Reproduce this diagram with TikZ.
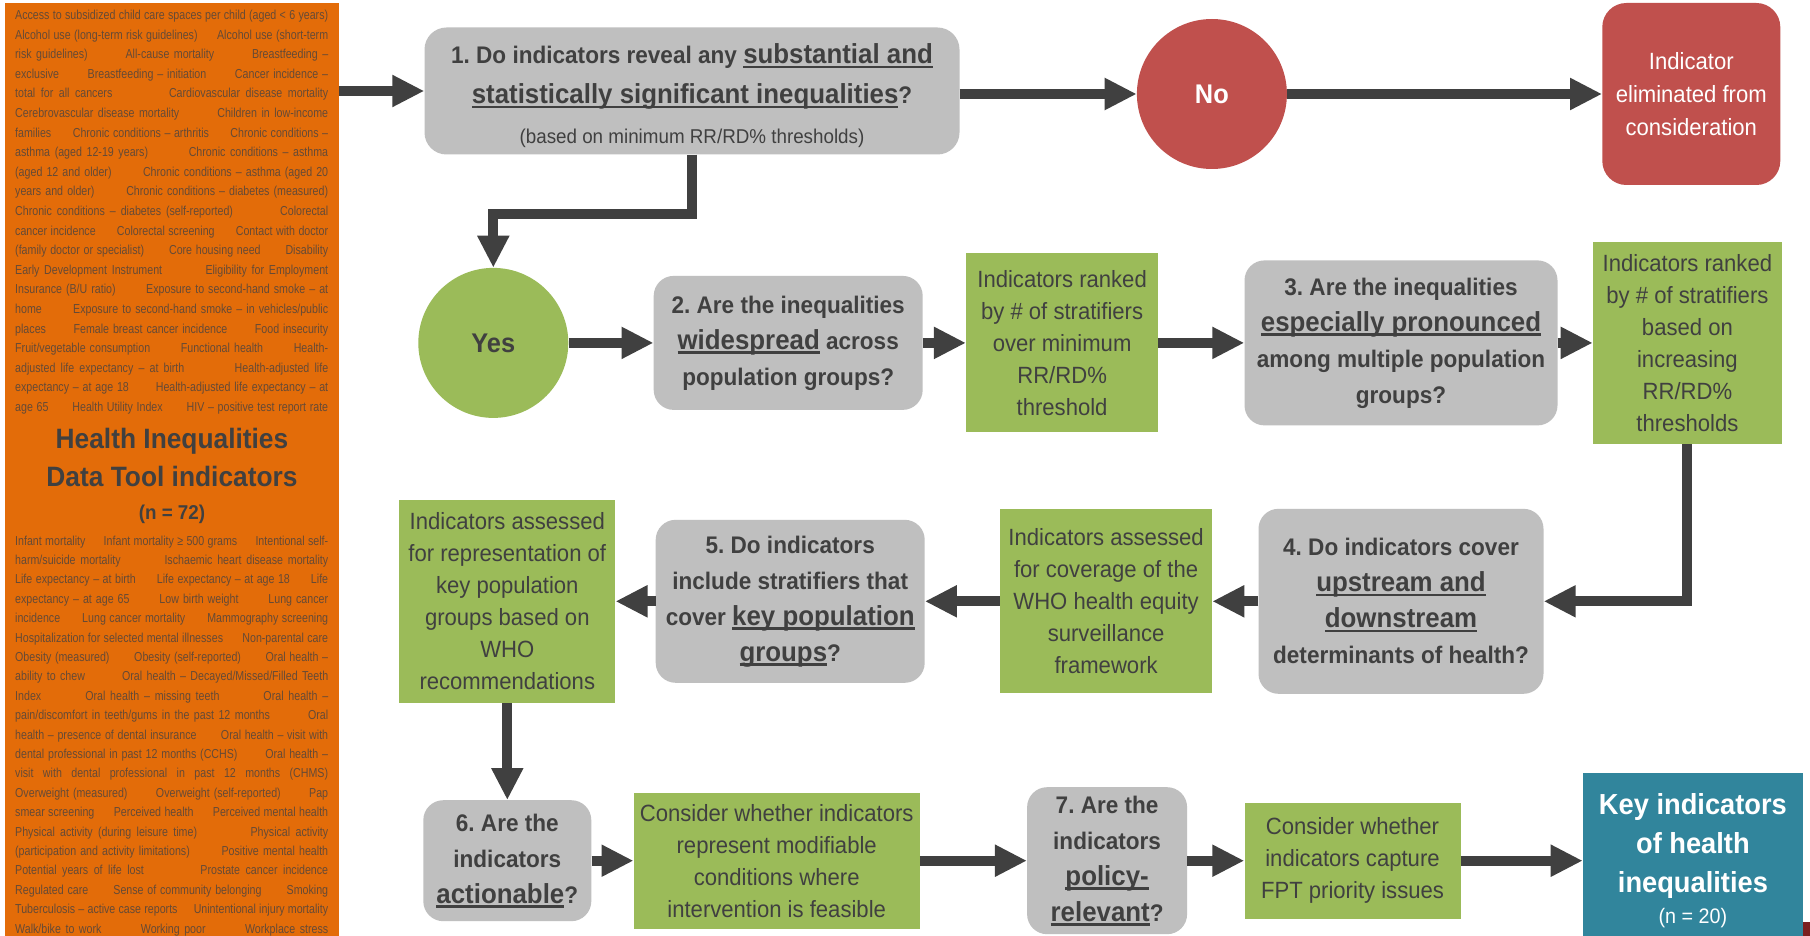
\documentclass[tikz,border=0pt]{standalone}
\usepackage{fontspec}
\setmainfont[FakeStretch=0.94]{Liberation Sans}
\newfontfamily\narrowfont[FakeStretch=0.82]{Liberation Sans}
\usetikzlibrary{positioning,arrows.meta}
\frenchspacing

\definecolor{toolorange}{HTML}{E36C09}
\definecolor{qgrey}{HTML}{BFBFBF}
\definecolor{igreen}{HTML}{9BBB59}
\definecolor{nored}{HTML}{C0504D}
\definecolor{keyteal}{HTML}{31859C}
\definecolor{inkgrey}{HTML}{404040}
\definecolor{listink}{HTML}{654A36}
\definecolor{edgered}{HTML}{7B1F1F}

\newcommand{\fsz}[2]{\fontsize{#1}{#2}\selectfont}
\newcommand{\keyword}[1]{{\fsz{27.5}{36}\setbox0=\hbox{#1}\rlap{\rule[-4.5pt]{\wd0}{2.2pt}}\box0}}
\newcommand{\isep}{\hspace{0.9em plus 2em}}
\newcommand{\listrow}[1]{\makebox[313pt][s]{#1}}

\tikzset{
  qbox/.style={fill=qgrey, rounded corners=20pt, align=center, text=inkgrey, font=\bfseries\fsz{24}{36}, inner sep=2pt},
  ibox/.style={fill=igreen, align=center, text=inkgrey, font=\fsz{23.5}{32}, inner sep=2pt},
  answer/.style={circle, minimum size=150pt, inner sep=0pt, font=\bfseries\fsz{27}{32}},
  flow/.style={draw=inkgrey, line width=10pt, -{Triangle[length=32pt,width=30pt]}},
}

\begin{document}
\begin{tikzpicture}[x=1pt, y=-1pt]
\useasboundingbox (0,0) rectangle (1810,936);
\fill[white] (0,0) rectangle (1810,936);

\node[fill=toolorange, minimum width=334pt, minimum height=945pt, anchor=north west, inner sep=0pt] (tool) at (5,3) {};
\node[anchor=north west, inner sep=0pt, align=left, text=listink, font=\narrowfont\fsz{13}{19.6}] (listtop) at (15,9.8) {%
\listrow{Access to subsidized child care spaces per child (aged < 6 years)}\\
\listrow{Alcohol use (long-term risk guidelines)\isep Alcohol use (short-term}\\
\listrow{risk guidelines)\isep All-cause mortality\isep Breastfeeding –}\\
\listrow{exclusive\isep Breastfeeding – initiation\isep Cancer incidence –}\\
\listrow{total for all cancers\isep Cardiovascular disease mortality}\\
\listrow{Cerebrovascular disease mortality\isep Children in low-income}\\
\listrow{families\isep Chronic conditions – arthritis\isep Chronic conditions –}\\
\listrow{asthma (aged 12-19 years)\isep Chronic conditions – asthma}\\
\listrow{(aged 12 and older)\isep Chronic conditions – asthma (aged 20}\\
\listrow{years and older)\isep Chronic conditions – diabetes (measured)}\\
\listrow{Chronic conditions – diabetes (self-reported)\isep Colorectal}\\
\listrow{cancer incidence\isep Colorectal screening\isep Contact with doctor}\\
\listrow{(family doctor or specialist)\isep Core housing need\isep Disability}\\
\listrow{Early Development Instrument\isep Eligibility for Employment}\\
\listrow{Insurance (B/U ratio)\isep Exposure to second-hand smoke – at}\\
\listrow{home\isep Exposure to second-hand smoke – in vehicles/public}\\
\listrow{places\isep Female breast cancer incidence\isep Food insecurity}\\
\listrow{Fruit/vegetable consumption\isep Functional health\isep Health-}\\
\listrow{adjusted life expectancy – at birth\isep Health-adjusted life}\\
\listrow{expectancy – at age 18\isep Health-adjusted life expectancy – at}\\
\listrow{age 65\isep Health Utility Index\isep HIV – positive test report rate}};
\node[anchor=north, inner sep=0pt, align=center, text=inkgrey, font=\bfseries\fsz{28}{38}] (tooltitle) at (172,428.5) {Health Inequalities\\Data Tool indicators\\[-5pt]{\fsz{20}{26}(n = 72)}};
\node[anchor=north west, inner sep=0pt, align=left, text=listink, font=\narrowfont\fsz{13}{19.4}] (listbottom) at (15,535.5) {%
\listrow{Infant mortality\isep Infant mortality ≥ 500 grams\isep Intentional self-}\\
\listrow{harm/suicide mortality\isep Ischaemic heart disease mortality}\\
\listrow{Life expectancy – at birth\isep Life expectancy – at age 18\isep Life}\\
\listrow{expectancy – at age 65\isep Low birth weight\isep Lung cancer}\\
\listrow{incidence\isep Lung cancer mortality\isep Mammography screening}\\
\listrow{Hospitalization for selected mental illnesses\isep Non-parental care}\\
\listrow{Obesity (measured)\isep Obesity (self-reported)\isep Oral health –}\\
\listrow{ability to chew\isep Oral health – Decayed/Missed/Filled Teeth}\\
\listrow{Index\isep Oral health – missing teeth\isep Oral health –}\\
\listrow{pain/discomfort in teeth/gums in the past 12 months\isep Oral}\\
\listrow{health – presence of dental insurance\isep Oral health – visit with}\\
\listrow{dental professional in past 12 months (CCHS)\isep Oral health –}\\
\listrow{visit with dental professional in past 12 months (CHMS)}\\
\listrow{Overweight (measured)\isep Overweight (self-reported)\isep Pap}\\
\listrow{smear screening\isep Perceived health\isep Perceived mental health}\\
\listrow{Physical activity (during leisure time)\isep Physical activity}\\
\listrow{(participation and activity limitations)\isep Positive mental health}\\
\listrow{Potential years of life lost\isep Prostate cancer incidence}\\
\listrow{Regulated care\isep Sense of community belonging\isep Smoking}\\
\listrow{Tuberculosis – active case reports\isep Unintentional injury mortality}\\
\listrow{Walk/bike to work\isep Working poor\isep Workplace stress}};

\node[qbox, minimum width=535pt, minimum height=127pt, rounded corners=22pt] (q1) at (692,91) {\rule{0pt}{30pt}1. Do indicators reveal any \keyword{substantial and}\\[4pt]\keyword{statistically significant inequalities}?\\[4pt]{\mdseries\fsz{20}{26}(based on minimum RR/RD\% thresholds)}};
\node[answer, fill=nored, text=white, right=177pt of q1, yshift=-3pt] (no) {No};
\node[fill=nored, rounded corners=24pt, minimum width=178pt, minimum height=182pt, align=center, text=white, font=\fsz{23.5}{33}, right=315pt of no] (out) {Indicator\\eliminated from\\consideration};

\node[answer, fill=igreen, text=inkgrey, below=113pt of q1.south west, xshift=69pt] (yes) {Yes};
\node[qbox, minimum width=269pt, minimum height=134pt, right=85pt of yes] (q2) {2. Are the inequalities\\\keyword{widespread} across\\population groups?};
\node[ibox, minimum width=192pt, minimum height=179pt, right=43pt of q2] (rank1) {Indicators ranked\\by \# of stratifiers\\over minimum\\RR/RD\%\\threshold};
\node[qbox, minimum width=313pt, minimum height=165pt, right=86pt of rank1] (q3) {3. Are the inequalities\\\keyword{especially pronounced}\\among multiple population\\groups?};
\node[ibox, minimum width=189pt, minimum height=202pt, right=35pt of q3] (rank2) {Indicators ranked\\by \# of stratifiers\\based on\\increasing\\RR/RD\%\\thresholds};

\node[qbox, minimum width=285pt, minimum height=185pt, below=83pt of q3] (q4) {4. Do indicators cover\\\keyword{upstream and}\\\keyword{downstream}\\determinants of health?};
\node[ibox, minimum width=212pt, minimum height=184pt, left=46pt of q4] (cover) {Indicators assessed\\for coverage of the\\WHO health equity\\surveillance\\framework};
\node[qbox, minimum width=269pt, minimum height=163pt, left=75pt of cover] (q5) {5. Do indicators\\include stratifiers that\\cover \keyword{key population}\\\keyword{groups}?};
\node[ibox, minimum width=216pt, minimum height=203pt, left=40pt of q5] (repr) {Indicators assessed\\for representation of\\key population\\groups based on\\WHO\\recommendations};

\node[qbox, minimum width=168pt, minimum height=121pt, below=97pt of repr] (q6) {6. Are the\\indicators\\\keyword{actionable}?};
\node[ibox, minimum width=286pt, minimum height=136pt, right=42pt of q6] (modif) {Consider whether indicators\\represent modifiable\\conditions where\\intervention is feasible};
\node[qbox, minimum width=160pt, minimum height=147pt, right=107pt of modif] (q7) {7. Are the\\indicators\\\keyword{policy-}\\\keyword{relevant}?};
\node[ibox, minimum width=216pt, minimum height=116pt, right=57pt of q7] (fpt) {Consider whether\\indicators capture\\FPT priority issues};
\node[fill=keyteal, minimum width=220pt, minimum height=176pt, align=center, text=white, font=\bfseries\fsz{29}{39}, right=122pt of fpt] (key) {Key indicators\\of health\\inequalities\\[-8pt]{\mdseries\fsz{21}{26}(n = 20)}};
\fill[edgered] (1803,922) rectangle (1812,940);

\draw[flow] (tool.east |- q1.west) -- (q1.west);
\draw[flow] (q1.east |- no.west) -- (no.west);
\draw[flow] (no) -- (out);
\draw[flow] (q1.south) -- ++(0,59) -| (yes.north);
\draw[flow] (yes) -- (q2);
\draw[flow] (q2) -- (rank1);
\draw[flow] (rank1) -- (q3);
\draw[flow] (q3) -- (rank2);
\draw[flow] (rank2.south) |- (q4.east);
\draw[flow] (q4) -- (cover);
\draw[flow] (cover) -- (q5);
\draw[flow] (q5) -- (repr);
\draw[flow] (repr) -- (q6);
\draw[flow] (q6) -- (modif);
\draw[flow] (modif) -- (q7);
\draw[flow] (q7) -- (fpt);
\draw[flow] (fpt) -- (key);
\end{tikzpicture}
\end{document}
